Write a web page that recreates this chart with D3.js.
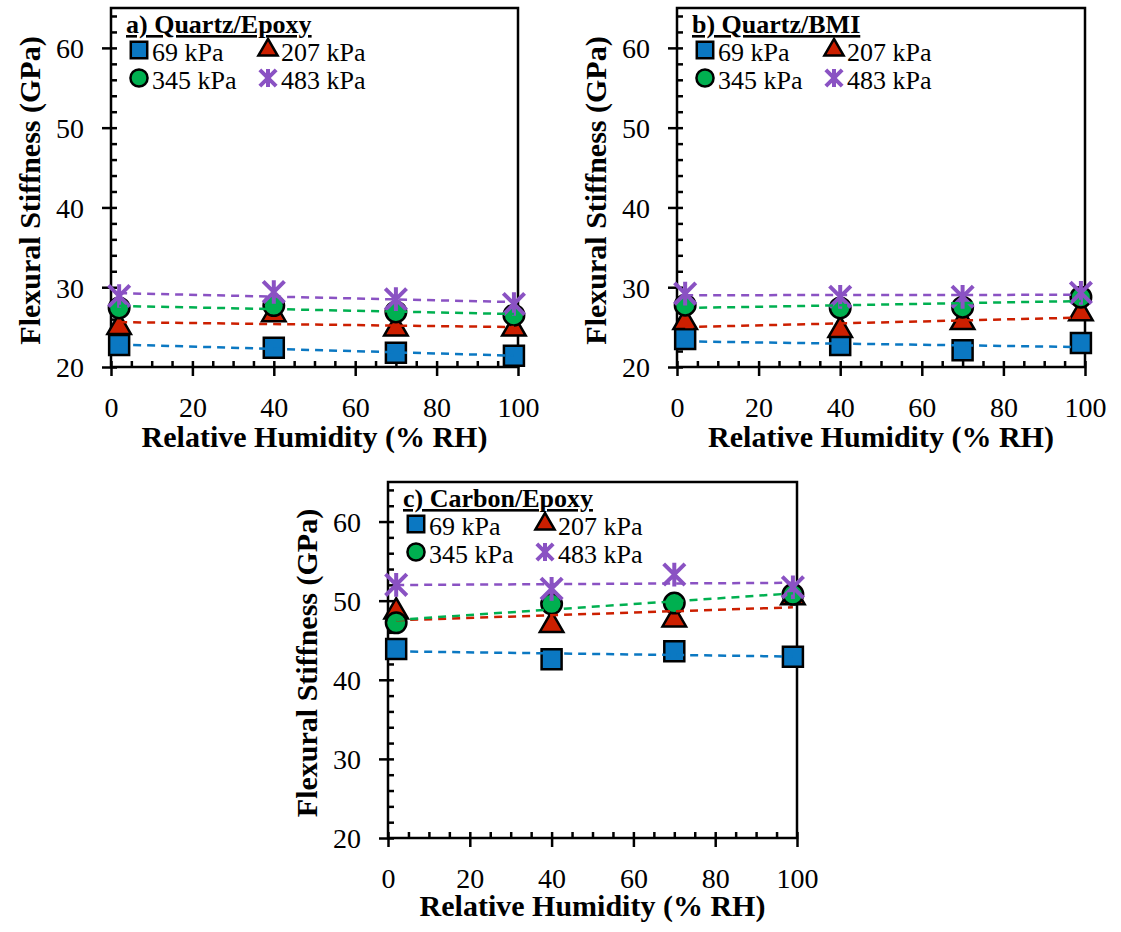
<!DOCTYPE html>
<html>
<head>
<meta charset="utf-8">
<script src="https://cdn.jsdelivr.net/npm/d3@7"></script>
<style>
body { margin: 0; background: #fff; }
svg { display: block; }
</style>
</head>
<body>
<svg id="chart" width="1121" height="932"></svg>
<script>
// relative humidity of the four test points
var humidity = [2, 40, 70, 99];
var pressures = ["69 kPa", "207 kPa", "345 kPa", "483 kPa"];
var xTicks = [0, 20, 40, 60, 80, 100];
var yTicks = [20, 30, 40, 50, 60];
var xMinor = [5, 10, 15, 25, 30, 35, 45, 50, 55, 65, 70, 75, 85, 90, 95];
var yMinor = [22, 24, 26, 28, 32, 34, 36, 38, 42, 44, 46, 48, 52, 54, 56, 58, 62, 64];

// a) Quartz/Epoxy
var quartzEpoxy69 = [22.75, 22.4, 21.8, 21.4];
var quartzEpoxy207 = [25.0, 26.6, 24.8, 24.8];
var quartzEpoxy345 = [27.4, 27.7, 26.9, 26.5];
var quartzEpoxy483 = [28.9, 29.4, 28.5, 27.9];

// b) Quartz/BMI
var quartzBmi69 = [23.5, 22.75, 22.1, 23.0];
var quartzBmi207 = [25.6, 24.6, 25.6, 26.7];
var quartzBmi345 = [27.75, 27.4, 27.5, 28.75];
var quartzBmi483 = [29.2, 28.8, 28.8, 29.3];

// c) Carbon/Epoxy
var carbonEpoxy69 = [43.9, 42.6, 43.6, 42.9];
var carbonEpoxy207 = [48.6, 46.9, 47.6, 50.4];
var carbonEpoxy345 = [47.2, 49.6, 49.7, 50.8];
var carbonEpoxy483 = [52.0, 51.5, 53.3, 51.7];

var serif = "'Liberation Serif', 'Times New Roman', serif";
var colors = ["#0B78C2", "#CC1F00", "#00B050", "#8A52C3"];

// Excel style "*" marker: vertical bar plus an X
var symbolAsterisk = {
    draw: function (ctx, size) {
        var r = Math.sqrt(size) / 2;
        var d = r * 0.9;
        ctx.moveTo(0, -r); ctx.lineTo(0, r);
        ctx.moveTo(-d, -d); ctx.lineTo(d, d);
        ctx.moveTo(-d, d); ctx.lineTo(d, -d);
    }
};
var symbolTypes = [d3.symbolSquare, d3.symbolTriangle, d3.symbolCircle, symbolAsterisk];
var dataSizes = [400, 240, 330, 560];
var legendSizes = [270, 160, 230, 330];

function linearFit(xs, ys) {
    var mx = d3.mean(xs), my = d3.mean(ys);
    var sxy = 0, sxx = 0;
    for (var i = 0; i < xs.length; i++) {
        sxy += (xs[i] - mx) * (ys[i] - my);
        sxx += (xs[i] - mx) * (xs[i] - mx);
    }
    var slope = sxy / sxx;
    return function (v) { return my + slope * (v - mx); };
}

var panels = [
    { title: "a) Quartz/Epoxy", left: 111, right: 518, top: 8, bottom: 367, labelY: 50, titleY: 80,
      series: [quartzEpoxy69, quartzEpoxy207, quartzEpoxy345, quartzEpoxy483] },
    { title: "b) Quartz/BMI", left: 677, right: 1085, top: 8, bottom: 367, labelY: 50, titleY: 80,
      series: [quartzBmi69, quartzBmi207, quartzBmi345, quartzBmi483] },
    { title: "c) Carbon/Epoxy", left: 388, right: 797, top: 482, bottom: 838, labelY: 50, titleY: 78,
      series: [carbonEpoxy69, carbonEpoxy207, carbonEpoxy345, carbonEpoxy483] }
];

var svg = d3.select("#chart");

panels.forEach(function (p) {
    var g = svg.append("g");

    var x = d3.scaleLinear().domain([0, 100]).range([p.left, p.right]);
    var y = d3.scaleLinear().domain([20, 65]).range([p.bottom, p.top]);

    // frame
    g.append("rect")
        .attr("x", p.left).attr("y", p.top)
        .attr("width", p.right - p.left).attr("height", p.bottom - p.top)
        .attr("fill", "none").attr("stroke", "#000").attr("stroke-width", 2.5);

    // x axis, major ticks cross the axis line
    g.append("g")
        .attr("transform", "translate(0," + p.bottom + ")")
        .call(d3.axisBottom(x).tickValues(xTicks).tickSizeInner(9).tickSizeOuter(0))
        .attr("font-family", serif).attr("font-size", 28)
        .call(a => a.select(".domain").remove())
        .call(a => a.selectAll(".tick line").attr("y1", -6).attr("stroke", "#000").attr("stroke-width", 2.5))
        .call(a => a.selectAll(".tick text").attr("y", p.labelY).attr("dy", null).attr("fill", "#000"));

    g.append("g")
        .attr("transform", "translate(0," + p.bottom + ")")
        .call(d3.axisBottom(x).tickValues(xMinor).tickSize(-6).tickFormat(""))
        .call(a => a.select(".domain").remove())
        .call(a => a.selectAll(".tick line").attr("stroke", "#000").attr("stroke-width", 2.5));

    // y axis
    g.append("g")
        .attr("transform", "translate(" + p.left + ",0)")
        .call(d3.axisLeft(y).tickValues(yTicks).tickSizeInner(9).tickSizeOuter(0))
        .attr("font-family", serif).attr("font-size", 28)
        .call(a => a.select(".domain").remove())
        .call(a => a.selectAll(".tick line").attr("x1", 6).attr("stroke", "#000").attr("stroke-width", 2.5))
        .call(a => a.selectAll(".tick text").attr("x", -27).attr("dy", "0.35em").attr("fill", "#000"));

    g.append("g")
        .attr("transform", "translate(" + p.left + ",0)")
        .call(d3.axisLeft(y).tickValues(yMinor).tickSize(-6).tickFormat(""))
        .call(a => a.select(".domain").remove())
        .call(a => a.selectAll(".tick line").attr("stroke", "#000").attr("stroke-width", 2.5));

    // axis titles
    g.append("text")
        .attr("x", (p.left + p.right) / 2).attr("y", p.bottom + p.titleY)
        .attr("text-anchor", "middle")
        .attr("font-family", serif).attr("font-weight", "bold").attr("font-size", 30)
        .text("Relative Humidity (% RH)");

    g.append("text")
        .attr("transform", "translate(" + (p.left - 71) + "," + ((p.top + p.bottom) / 2 + 3) + ") rotate(-90)")
        .attr("text-anchor", "middle")
        .attr("font-family", serif).attr("font-weight", "bold").attr("font-size", 30)
        .text("Flexural Stiffness (GPa)");

    // markers, series in order
    p.series.forEach(function (vals, i) {
        var pts = humidity.map((h, k) => ({ h: h, v: vals[k] }));
        var sym = d3.symbol().type(symbolTypes[i]).size(dataSizes[i]);
        var m = g.append("g").selectAll("path")
            .data(pts)
            .join("path")
            .attr("transform", d => "translate(" + x(d.h) + "," + y(d.v) + ")")
            .attr("d", sym);
        if (i == 3) {
            m.attr("fill", "none").attr("stroke", colors[i]).attr("stroke-width", 4);
        } else {
            m.attr("fill", colors[i]).attr("stroke", "#000").attr("stroke-width", 2.5);
        }
    });

    // linear trendlines over the markers
    p.series.forEach(function (vals, i) {
        var fit = linearFit(humidity, vals);
        var ends = d3.extent(humidity);
        var line = d3.line()
            .x(d => x(d))
            .y(d => y(fit(d)));
        g.append("path")
            .datum(ends)
            .attr("fill", "none")
            .attr("stroke", colors[i])
            .attr("stroke-width", 2.5)
            .attr("stroke-dasharray", "8,6")
            .attr("d", line);
    });

    // legend
    var lg = g.append("g").attr("transform", "translate(" + p.left + "," + p.top + ")");
    lg.append("text")
        .attr("x", 15).attr("y", 25)
        .attr("font-family", serif).attr("font-weight", "bold").attr("font-size", 26)
        .attr("text-decoration", "underline")
        .text(p.title);

    pressures.forEach(function (name, i) {
        var cx = i % 2 == 0 ? 28 : 157;
        var cy = i < 2 ? 42 : 70;
        var mk = lg.append("path")
            .attr("transform", "translate(" + cx + "," + cy + ")")
            .attr("d", d3.symbol().type(symbolTypes[i]).size(legendSizes[i]));
        if (i == 3) {
            mk.attr("fill", "none").attr("stroke", colors[i]).attr("stroke-width", 4);
        } else {
            mk.attr("fill", colors[i]).attr("stroke", "#000").attr("stroke-width", 2.5);
        }
        lg.append("text")
            .attr("x", cx + 13).attr("y", cy + 11)
            .attr("font-family", serif).attr("font-size", 26)
            .text(name);
    });
});
</script>
</body>
</html>
